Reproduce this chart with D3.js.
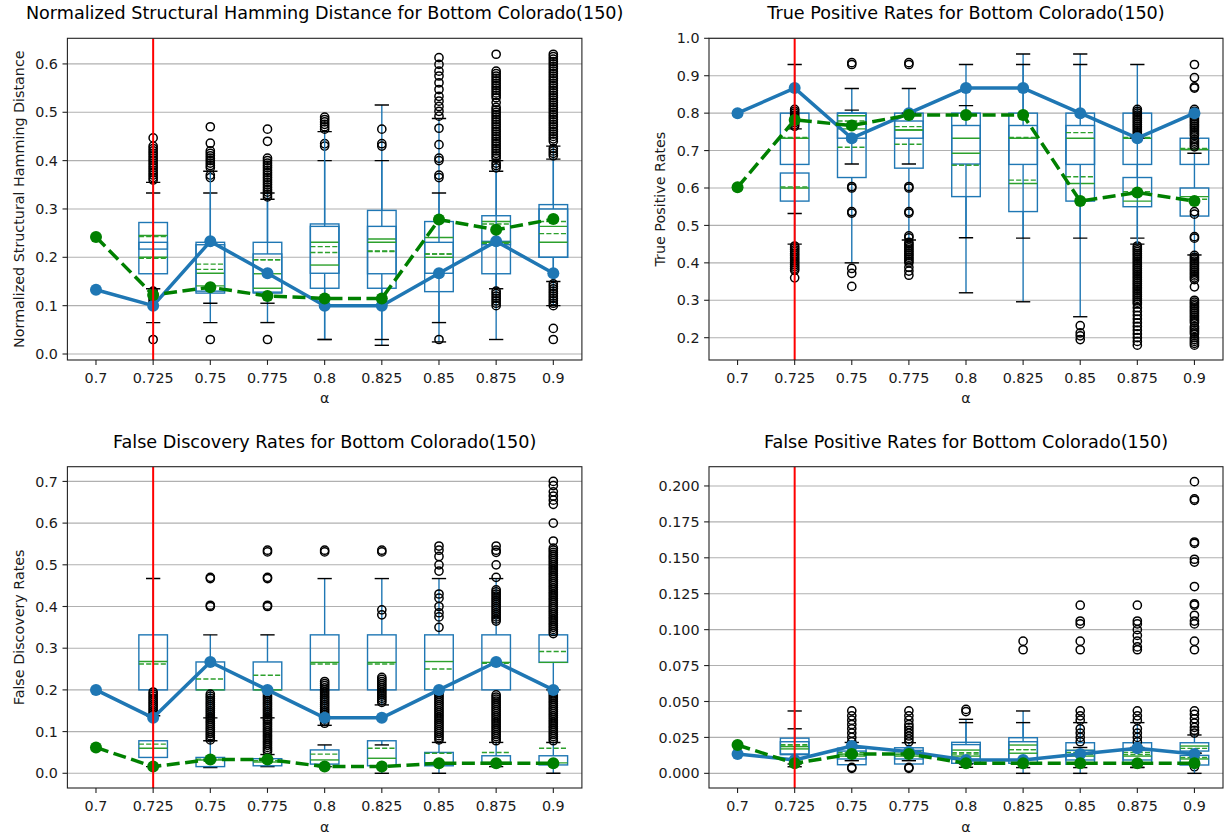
<!DOCTYPE html>
<html>
<head>
<meta charset="utf-8">
<script src="https://cdn.jsdelivr.net/npm/d3@7"></script>
<style>
  body { margin: 0; background: #fff; }
  svg { display: block; font-family: "DejaVu Sans", sans-serif; }
</style>
</head>
<body>
<svg id="chart" width="1225" height="839"></svg>
<script>
// ---------- categories ----------
const alphas = ["0.7", "0.725", "0.75", "0.775", "0.8", "0.825", "0.85", "0.875", "0.9"];
const boxAlphas = ["0.725", "0.75", "0.775", "0.8", "0.825", "0.85", "0.875", "0.9"];
const markedAlpha = "0.725";

// ---------- Normalized Structural Hamming Distance ----------
const shdTicks = [0, 0.1, 0.2, 0.3, 0.4, 0.5, 0.6];
const shdBlue = [0.133, 0.1, 0.233, 0.167, 0.1, 0.1, 0.167, 0.233, 0.167];
const shdGreen = [0.242, 0.122, 0.138, 0.12, 0.115, 0.115, 0.278, 0.257, 0.279];
const shdBoxesA = [
  {q1: 0.166, med: 0.245, q3: 0.272, mean: 0.243, lo: 0.065, hi: 0.333, out: [0.03, 0.447]},
  {q1: 0.126, med: 0.167, q3: 0.231, mean: 0.186, lo: 0.065, hi: 0.333, out: [0.03, 0.365, 0.37, 0.436, 0.47]},
  {q1: 0.126, med: 0.166, q3: 0.231, mean: 0.195, lo: 0.065, hi: 0.333, out: [0.03, 0.44, 0.465]},
  {q1: 0.136, med: 0.231, q3: 0.269, mean: 0.222, lo: 0.03, hi: 0.4, out: [0.43, 0.435]},
  {q1: 0.136, med: 0.238, q3: 0.297, mean: 0.212, lo: 0.018, hi: 0.515, out: []},
  {q1: 0.129, med: 0.241, q3: 0.274, mean: 0.207, lo: 0.025, hi: 0.487, out: [0.492, 0.502, 0.512, 0.523, 0.533, 0.547, 0.561, 0.575, 0.585, 0.599, 0.613]},
  {q1: 0.166, med: 0.274, q3: 0.286, mean: 0.269, lo: 0.03, hi: 0.378, out: [0.62]},
  {q1: 0.2, med: 0.264, q3: 0.309, mean: 0.274, lo: 0.1, hi: 0.43, out: [0.03, 0.053, 0.44, 0.445, 0.45, 0.455, 0.46, 0.465, 0.47, 0.475, 0.48, 0.485, 0.49, 0.495, 0.5, 0.505, 0.51, 0.515, 0.52, 0.525, 0.53, 0.535, 0.54, 0.545, 0.55, 0.555, 0.56, 0.565, 0.57, 0.575, 0.58, 0.585, 0.59, 0.595, 0.6, 0.605, 0.61, 0.615, 0.62]}
];
const shdBoxesB = [
  {q1: 0.217, med: 0.2, q3: 0.231, mean: 0.198, lo: 0.135, hi: 0.355, out: [0.1, 0.105, 0.11, 0.115, 0.12, 0.125, 0.13, 0.36, 0.365, 0.37, 0.375, 0.38, 0.385, 0.39, 0.395, 0.4, 0.405, 0.41, 0.415, 0.42, 0.425, 0.43]},
  {q1: 0.13, med: 0.141, q3: 0.226, mean: 0.175, lo: 0.105, hi: 0.378, out: [0.385, 0.39, 0.395, 0.4, 0.405, 0.41, 0.415, 0.42]},
  {q1: 0.128, med: 0.136, q3: 0.207, mean: 0.195, lo: 0.105, hi: 0.32, out: [0.325, 0.33, 0.335, 0.34, 0.345, 0.35, 0.355, 0.36, 0.365, 0.37, 0.375, 0.38, 0.385, 0.39, 0.395, 0.4, 0.405]},
  {q1: 0.167, med: 0.184, q3: 0.264, mean: 0.21, lo: 0.03, hi: 0.46, out: [0.465, 0.47, 0.475, 0.48, 0.485, 0.49]},
  {q1: 0.166, med: 0.231, q3: 0.264, mean: 0.213, lo: 0.03, hi: 0.4, out: [0.43, 0.435, 0.465]},
  {q1: 0.167, med: 0.2, q3: 0.231, mean: 0.207, lo: 0.065, hi: 0.333, out: [0.03, 0.365, 0.37, 0.4, 0.405, 0.433, 0.467]},
  {q1: 0.226, med: 0.231, q3: 0.233, mean: 0.229, lo: 0.135, hi: 0.4, out: [0.1, 0.105, 0.11, 0.115, 0.12, 0.125, 0.13, 0.385, 0.39, 0.395, 0.405, 0.41, 0.415, 0.42, 0.425, 0.43, 0.435, 0.44, 0.445, 0.45, 0.455, 0.46, 0.465, 0.47, 0.475, 0.48, 0.485, 0.49, 0.495, 0.5, 0.505, 0.51, 0.52, 0.53, 0.535, 0.54, 0.545, 0.55, 0.555, 0.56, 0.565, 0.57, 0.575, 0.58, 0.585]},
  {q1: 0.2, med: 0.231, q3: 0.3, mean: 0.249, lo: 0.15, hi: 0.403, out: [0.1, 0.105, 0.11, 0.115, 0.12, 0.125, 0.13, 0.135, 0.14, 0.145, 0.41, 0.415, 0.42, 0.425]}
];

// ---------- True Positive Rates ----------
const tprTicks = [0.2, 0.3, 0.4, 0.5, 0.6, 0.7, 0.8, 0.9, 1.0];
const tprBlue = [0.8, 0.867, 0.733, 0.8, 0.867, 0.867, 0.8, 0.733, 0.8];
const tprGreen = [0.602, 0.782, 0.767, 0.795, 0.795, 0.795, 0.565, 0.588, 0.565];
const tprBoxesA = [
  {q1: 0.663, med: 0.733, q3: 0.8, mean: 0.735, lo: 0.45, hi: 0.93, out: [0.36, 0.38, 0.385, 0.39, 0.395, 0.4, 0.405, 0.41, 0.415, 0.42, 0.425, 0.43, 0.435, 0.44, 0.445]},
  {q1: 0.628, med: 0.758, q3: 0.8, mean: 0.709, lo: 0.4, hi: 0.866, out: [0.337, 0.372, 0.385, 0.93, 0.935]},
  {q1: 0.653, med: 0.755, q3: 0.8, mean: 0.717, lo: 0.461, hi: 0.866, out: [0.367, 0.378, 0.388, 0.4, 0.405, 0.41, 0.415, 0.42, 0.425, 0.43, 0.435, 0.44, 0.445, 0.45, 0.455, 0.467, 0.472]},
  {q1: 0.577, med: 0.733, q3: 0.8, mean: 0.661, lo: 0.32, hi: 0.93, out: []},
  {q1: 0.537, med: 0.612, q3: 0.8, mean: 0.621, lo: 0.296, hi: 0.958, out: []},
  {q1: 0.565, med: 0.612, q3: 0.8, mean: 0.63, lo: 0.256, hi: 0.958, out: [0.195, 0.205, 0.213, 0.232]},
  {q1: 0.663, med: 0.733, q3: 0.8, mean: 0.735, lo: 0.466, hi: 0.93, out: [0.18, 0.19, 0.2, 0.21, 0.22, 0.23, 0.24, 0.25, 0.26, 0.27, 0.28, 0.29, 0.295, 0.3, 0.305, 0.31, 0.315, 0.32, 0.325, 0.33, 0.335, 0.34, 0.345, 0.35, 0.355, 0.36, 0.365, 0.37, 0.375, 0.38, 0.385, 0.39, 0.395, 0.4, 0.405, 0.41, 0.415, 0.42, 0.425, 0.43, 0.435, 0.44, 0.445]},
  {q1: 0.663, med: 0.703, q3: 0.733, mean: 0.706, lo: null, hi: null, out: [0.74, 0.745, 0.75, 0.755, 0.76, 0.765, 0.77, 0.775, 0.78, 0.785, 0.79, 0.795, 0.8, 0.805, 0.81, 0.867, 0.87, 0.895, 0.93]}
];
const tprBoxesB = [
  {q1: 0.565, med: 0.6, q3: 0.64, mean: 0.603, lo: 0.532, hi: 0.758, out: [0.765, 0.77, 0.775, 0.78, 0.785, 0.79, 0.795, 0.8, 0.805, 0.81]},
  {q1: 0.733, med: 0.793, q3: 0.8, mean: 0.779, lo: 0.664, hi: 0.808, out: [0.533, 0.537, 0.6, 0.604]},
  {q1: 0.733, med: 0.755, q3: 0.779, mean: 0.764, lo: 0.664, hi: 0.8, out: [0.533, 0.537, 0.6, 0.604, 0.93, 0.935]},
  {q1: 0.664, med: 0.693, q3: 0.767, mean: 0.661, lo: 0.467, hi: 0.82, out: []},
  {q1: 0.663, med: 0.733, q3: 0.767, mean: 0.735, lo: 0.466, hi: 0.93, out: []},
  {q1: 0.663, med: 0.733, q3: 0.767, mean: 0.748, lo: 0.466, hi: 0.93, out: []},
  {q1: 0.55, med: 0.565, q3: 0.628, mean: 0.59, lo: 0.45, hi: 0.733, out: [0.74, 0.745, 0.75, 0.755, 0.76, 0.765, 0.77, 0.775, 0.78, 0.785, 0.79, 0.795, 0.8, 0.805, 0.81]},
  {q1: 0.525, med: 0.577, q3: 0.6, mean: 0.57, lo: 0.421, hi: 0.693, out: [0.18, 0.185, 0.19, 0.195, 0.2, 0.21, 0.215, 0.22, 0.225, 0.23, 0.24, 0.245, 0.25, 0.255, 0.26, 0.265, 0.27, 0.275, 0.28, 0.285, 0.29, 0.295, 0.3, 0.336, 0.355, 0.36, 0.365, 0.37, 0.375, 0.38, 0.385, 0.39, 0.395, 0.4, 0.405, 0.41, 0.415, 0.42, 0.466, 0.47, 0.53, 0.537, 0.71, 0.715, 0.72, 0.725, 0.73]}
];

// ---------- False Discovery Rates ----------
const fdrTicks = [0, 0.1, 0.2, 0.3, 0.4, 0.5, 0.6, 0.7];
const fdrBlue = [0.2, 0.133, 0.267, 0.2, 0.133, 0.133, 0.2, 0.267, 0.2];
const fdrGreen = [0.062, 0.016, 0.033, 0.033, 0.016, 0.016, 0.024, 0.024, 0.024];
const fdrBoxesA = [
  {q1: 0.2, med: 0.268, q3: 0.332, mean: 0.262, lo: null, hi: 0.467, out: [0.14, 0.145, 0.15, 0.155, 0.16, 0.165, 0.17, 0.175, 0.18, 0.185, 0.19, 0.195]},
  {q1: 0.2, med: 0.2, q3: 0.267, mean: 0.226, lo: 0.133, hi: 0.332, out: [0.135, 0.14, 0.145, 0.15, 0.155, 0.16, 0.165, 0.17, 0.175, 0.18, 0.185, 0.19, 0.4, 0.403, 0.467, 0.47]},
  {q1: 0.2, med: 0.2, q3: 0.267, mean: 0.235, lo: 0.133, hi: 0.332, out: [0.135, 0.14, 0.145, 0.15, 0.155, 0.16, 0.165, 0.17, 0.175, 0.18, 0.185, 0.19, 0.4, 0.403, 0.467, 0.47, 0.531, 0.535]},
  {q1: 0.2, med: 0.266, q3: 0.332, mean: 0.262, lo: 0.115, hi: 0.467, out: [0.12, 0.125, 0.13, 0.135, 0.14, 0.145, 0.15, 0.155, 0.16, 0.165, 0.17, 0.175, 0.18, 0.185, 0.19, 0.195, 0.2, 0.205, 0.21, 0.215, 0.22, 0.531, 0.535]},
  {q1: 0.2, med: 0.266, q3: 0.332, mean: 0.262, lo: 0.164, hi: 0.467, out: [0.17, 0.175, 0.18, 0.185, 0.19, 0.195, 0.2, 0.205, 0.21, 0.215, 0.22, 0.225, 0.23, 0.38, 0.392, 0.531, 0.535]},
  {q1: 0.2, med: 0.268, q3: 0.332, mean: 0.25, lo: null, hi: 0.467, out: [0.35, 0.375, 0.385, 0.4, 0.42, 0.43, 0.485, 0.5, 0.52, 0.535, 0.545]},
  {q1: 0.2, med: 0.266, q3: 0.332, mean: 0.264, lo: null, hi: 0.467, out: [0.365, 0.37, 0.375, 0.38, 0.385, 0.39, 0.395, 0.4, 0.405, 0.41, 0.415, 0.42, 0.425, 0.43, 0.435, 0.44, 0.47, 0.5, 0.53, 0.535, 0.545]},
  {q1: 0.266, med: 0.266, q3: 0.332, mean: 0.292, lo: 0.2, hi: null, out: [0.335, 0.34, 0.345, 0.35, 0.355, 0.36, 0.365, 0.37, 0.375, 0.38, 0.385, 0.39, 0.395, 0.4, 0.405, 0.41, 0.415, 0.42, 0.425, 0.43, 0.435, 0.44, 0.445, 0.45, 0.455, 0.46, 0.465, 0.47, 0.475, 0.48, 0.485, 0.49, 0.495, 0.5, 0.505, 0.51, 0.515, 0.52, 0.525, 0.53, 0.535, 0.54, 0.557, 0.6, 0.645, 0.655, 0.665, 0.675, 0.69, 0.7]}
];
const fdrBoxesB = [
  {q1: 0.038, med: 0.06, q3: 0.078, mean: 0.07, lo: 0.016, hi: 0.138, out: []},
  {q1: 0.016, med: 0.032, q3: 0.038, mean: 0.034, lo: 0.014, hi: 0.078, out: [0.08, 0.085, 0.09, 0.095, 0.1, 0.105, 0.11, 0.115, 0.12, 0.125, 0.13]},
  {q1: 0.018, med: 0.027, q3: 0.035, mean: 0.03, lo: 0.016, hi: 0.045, out: [0.052, 0.057, 0.062, 0.067, 0.072, 0.077, 0.082, 0.087, 0.092, 0.097, 0.102, 0.107, 0.112, 0.117, 0.122, 0.127, 0.13]},
  {q1: 0.022, med: 0.032, q3: 0.056, mean: 0.046, lo: 0.016, hi: 0.068, out: []},
  {q1: 0.018, med: 0.036, q3: 0.078, mean: 0.06, lo: 0.0, hi: 0.068, out: []},
  {q1: 0.018, med: 0.025, q3: 0.05, mean: 0.048, lo: 0.0, hi: 0.074, out: [0.08, 0.085, 0.09, 0.095, 0.1, 0.105, 0.11, 0.115, 0.12, 0.125, 0.13, 0.135, 0.14, 0.145, 0.15, 0.155, 0.16, 0.165, 0.17, 0.175, 0.18, 0.185, 0.19, 0.195, 0.2]},
  {q1: 0.022, med: 0.026, q3: 0.042, mean: 0.05, lo: 0.016, hi: 0.074, out: [0.078, 0.083, 0.088, 0.093, 0.098, 0.103, 0.108, 0.113, 0.118, 0.123, 0.128, 0.133, 0.138, 0.143, 0.148, 0.153, 0.158, 0.163, 0.168, 0.173, 0.178, 0.183, 0.188]},
  {q1: 0.02, med: 0.025, q3: 0.042, mean: 0.06, lo: 0.0, hi: 0.074, out: [0.078, 0.083, 0.088, 0.093, 0.098, 0.103, 0.108, 0.113, 0.118, 0.123, 0.128, 0.133, 0.138, 0.143, 0.148, 0.153, 0.158, 0.163, 0.168, 0.173, 0.178, 0.183, 0.188, 0.193, 0.198]}
];

// ---------- False Positive Rates ----------
const fprTicks = [0, 0.025, 0.05, 0.075, 0.1, 0.125, 0.15, 0.175, 0.2];
const fprBlue = [0.0134, 0.0093, 0.019, 0.015, 0.0093, 0.0093, 0.0134, 0.0174, 0.0134];
const fprGreen = [0.0197, 0.007, 0.0134, 0.0134, 0.007, 0.007, 0.007, 0.007, 0.007];
const fprBoxesA = [
  {q1: 0.013, med: 0.0186, q3: 0.0245, mean: 0.02, lo: 0.0046, hi: 0.0434, out: []},
  {q1: 0.006, med: 0.0134, q3: 0.0175, mean: 0.0145, lo: null, hi: 0.0215, out: [0.0035, 0.0042, 0.022, 0.025, 0.028, 0.031, 0.034, 0.037, 0.04, 0.0435]},
  {q1: 0.0065, med: 0.0134, q3: 0.0178, mean: 0.015, lo: null, hi: 0.0213, out: [0.0035, 0.0042, 0.022, 0.024, 0.026, 0.028, 0.03, 0.032, 0.034, 0.037, 0.04, 0.0435]},
  {q1: 0.007, med: 0.0162, q3: 0.0216, mean: 0.0144, lo: 0.0042, hi: 0.0376, out: [0.043, 0.0445]},
  {q1: 0.007, med: 0.0197, q3: 0.0248, mean: 0.0165, lo: 0.0, hi: 0.0434, out: [0.086, 0.092]},
  {q1: 0.0063, med: 0.016, q3: 0.0213, mean: 0.0145, lo: 0.0, hi: 0.0353, out: [0.037, 0.04, 0.0435, 0.086, 0.092, 0.104, 0.106, 0.117]},
  {q1: 0.0063, med: 0.016, q3: 0.0213, mean: 0.0145, lo: 0.0042, hi: 0.0353, out: [0.037, 0.04, 0.0435, 0.086, 0.088, 0.092, 0.096, 0.1, 0.104, 0.106, 0.117]},
  {q1: 0.0155, med: 0.019, q3: 0.0213, mean: 0.0174, lo: 0.014, hi: 0.0267, out: [0.0046, 0.009, 0.028, 0.03, 0.032, 0.035, 0.038, 0.041, 0.0435]}
];
const fprBoxesB = [
  {q1: 0.0135, med: 0.017, q3: 0.022, mean: 0.019, lo: 0.0065, hi: 0.031, out: []},
  {q1: 0.01, med: 0.012, q3: 0.0155, mean: 0.013, lo: 0.0088, hi: null, out: []},
  {q1: 0.01, med: 0.012, q3: 0.016, mean: 0.013, lo: 0.0088, hi: null, out: []},
  {q1: 0.0097, med: 0.012, q3: 0.02, mean: 0.0135, lo: 0.0065, hi: 0.0353, out: []},
  {q1: 0.0095, med: 0.014, q3: 0.022, mean: 0.0165, lo: 0.004, hi: 0.0353, out: []},
  {q1: 0.0093, med: 0.012, q3: 0.016, mean: 0.013, lo: 0.004, hi: 0.018, out: [0.022, 0.025, 0.028, 0.031]},
  {q1: 0.0093, med: 0.012, q3: 0.016, mean: 0.013, lo: 0.004, hi: 0.018, out: [0.022, 0.025, 0.028, 0.031]},
  {q1: 0.0058, med: 0.01, q3: 0.0125, mean: 0.011, lo: 0.0, hi: 0.014, out: [0.086, 0.092, 0.104, 0.106, 0.11, 0.117, 0.118, 0.13, 0.147, 0.149, 0.16, 0.161, 0.19, 0.191, 0.203]}
];

// ---------- panel definitions ----------
const panels = [
  {title: "Normalized Structural Hamming Distance for Bottom Colorado(150)", ylabel: "Normalized Structural Hamming Distance",
   domain: [-0.0124, 0.653], ticks: shdTicks, fmt: d3.format(".1f"), blue: shdBlue, green: shdGreen, boxes: [shdBoxesA, shdBoxesB]},
  {title: "True Positive Rates for Bottom Colorado(150)", ylabel: "True Positive Rates",
   domain: [0.1404, 1.0], ticks: tprTicks, fmt: d3.format(".1f"), blue: tprBlue, green: tprGreen, boxes: [tprBoxesA, tprBoxesB]},
  {title: "False Discovery Rates for Bottom Colorado(150)", ylabel: "False Discovery Rates",
   domain: [-0.0353, 0.7353], ticks: fdrTicks, fmt: d3.format(".1f"), blue: fdrBlue, green: fdrGreen, boxes: [fdrBoxesA, fdrBoxesB]},
  {title: "False Positive Rates for Bottom Colorado(150)", ylabel: null,
   domain: [-0.0102, 0.2134], ticks: fprTicks, fmt: d3.format(".3f"), blue: fprBlue, green: fprGreen, boxes: [fprBoxesA, fprBoxesB]}
];

// axes rectangles and text anchors for the 2x2 grid
const frames = [
  {left: 67.4, top: 38.3, width: 514.5, height: 321.7, titleY: 18.5, tickY: 382.7, xlabY: 403, ylabX: 23.5},
  {left: 709, top: 38.3, width: 514, height: 321.7, titleY: 18.5, tickY: 382.7, xlabY: 403, ylabX: 664.5},
  {left: 67.4, top: 466.7, width: 514.5, height: 321.3, titleY: 448.3, tickY: 810.7, xlabY: 832, ylabX: 23.5},
  {left: 709, top: 466.7, width: 514, height: 321.3, titleY: 448.3, tickY: 810.7, xlabY: 832, ylabX: null}
];

const C = {
  box: "#1f77b4", median: "#2ca02c", cap: "#000", grid: "#b0b0b0",
  blueLine: "#1f77b4", greenLine: "#008000", red: "#ff0000", text: "#1a1a1a"
};
const FS = {tick: 14.3, label: 14.3, title: 17.6};
const svg = d3.select("#chart");

panels.forEach((p, pi) => {
  const F = frames[pi];
  const g = svg.append("g");
  const x = d3.scaleBand().domain(alphas).range([F.left, F.left + F.width]).paddingInner(0).paddingOuter(0);
  const bw = x.bandwidth();
  const cx = a => x(a) + bw / 2;
  const y = d3.scaleLinear().domain(p.domain).range([F.top + F.height, F.top]);
  const boxW = bw * 0.5, capW = bw * 0.25;

  const clipId = "clip" + pi;
  g.append("clipPath").attr("id", clipId).append("rect")
    .attr("x", F.left).attr("y", F.top).attr("width", F.width).attr("height", F.height);

  // horizontal grid
  g.append("g").selectAll("line").data(p.ticks).join("line")
    .attr("x1", F.left).attr("x2", F.left + F.width)
    .attr("y1", d => y(d)).attr("y2", d => y(d))
    .attr("stroke", C.grid).attr("stroke-width", 1.1);

  const plot = g.append("g").attr("clip-path", `url(#${clipId})`);

  // two box series per alpha
  p.boxes.forEach(series => {
    const rows = series.map((b, i) => Object.assign({a: boxAlphas[i]}, b));
    const sg = plot.append("g");
    const whiskers = [];
    const caps = [];
    rows.forEach(r => {
      if (r.lo !== null) { whiskers.push({a: r.a, v0: r.q1, v1: r.lo}); caps.push({a: r.a, v: r.lo}); }
      if (r.hi !== null) { whiskers.push({a: r.a, v0: r.q3, v1: r.hi}); caps.push({a: r.a, v: r.hi}); }
    });
    sg.append("g").selectAll("line").data(whiskers).join("line")
      .attr("x1", d => cx(d.a)).attr("x2", d => cx(d.a))
      .attr("y1", d => y(d.v0)).attr("y2", d => y(d.v1))
      .attr("stroke", C.box).attr("stroke-width", 1.4);
    sg.append("g").selectAll("line").data(caps).join("line")
      .attr("x1", d => cx(d.a) - capW / 2).attr("x2", d => cx(d.a) + capW / 2)
      .attr("y1", d => y(d.v)).attr("y2", d => y(d.v))
      .attr("stroke", C.cap).attr("stroke-width", 1.4);
    sg.append("g").selectAll("rect").data(rows).join("rect")
      .attr("x", d => cx(d.a) - boxW / 2).attr("width", boxW)
      .attr("y", d => y(d.q3)).attr("height", d => y(d.q1) - y(d.q3))
      .attr("fill", "none").attr("stroke", C.box).attr("stroke-width", 1.4);
    sg.append("g").selectAll("line").data(rows).join("line")
      .attr("x1", d => cx(d.a) - boxW / 2).attr("x2", d => cx(d.a) + boxW / 2)
      .attr("y1", d => y(d.med)).attr("y2", d => y(d.med))
      .attr("stroke", C.median).attr("stroke-width", 1.4);
    sg.append("g").selectAll("line").data(rows).join("line")
      .attr("x1", d => cx(d.a) - boxW / 2).attr("x2", d => cx(d.a) + boxW / 2)
      .attr("y1", d => y(d.mean)).attr("y2", d => y(d.mean))
      .attr("stroke", C.median).attr("stroke-width", 1.4).attr("stroke-dasharray", "5.1,2.2");
    const fliers = rows.flatMap(r => r.out.map(v => ({a: r.a, v})));
    sg.append("g").selectAll("circle").data(fliers).join("circle")
      .attr("cx", d => cx(d.a)).attr("cy", d => y(d.v)).attr("r", 4.1)
      .attr("fill", "none").attr("stroke", "#000").attr("stroke-width", 1.5);
  });

  // summary lines with markers
  const drawLine = (vals, color, dash) => {
    const pts = alphas.map((a, i) => ({a, v: vals[i]}));
    plot.append("path").datum(pts)
      .attr("d", d3.line().x(d => cx(d.a)).y(d => y(d.v)))
      .attr("fill", "none").attr("stroke", color).attr("stroke-width", 3.5)
      .attr("stroke-linejoin", "round")
      .attr("stroke-dasharray", dash);
    plot.append("g").selectAll("circle").data(pts).join("circle")
      .attr("cx", d => cx(d.a)).attr("cy", d => y(d.v)).attr("r", 6)
      .attr("fill", color);
  };
  drawLine(p.blue, C.blueLine, null);
  drawLine(p.green, C.greenLine, "13,5.5");

  // reference alpha
  plot.append("line")
    .attr("x1", cx(markedAlpha)).attr("x2", cx(markedAlpha))
    .attr("y1", F.top).attr("y2", F.top + F.height)
    .attr("stroke", C.red).attr("stroke-width", 2);

  // frame
  g.append("rect").attr("x", F.left).attr("y", F.top).attr("width", F.width).attr("height", F.height)
    .attr("fill", "none").attr("stroke", "#222").attr("stroke-width", 1.1);

  // y ticks
  const yt = g.append("g");
  yt.selectAll("line").data(p.ticks).join("line")
    .attr("x1", F.left - 4.9).attr("x2", F.left)
    .attr("y1", d => y(d)).attr("y2", d => y(d))
    .attr("stroke", "#222").attr("stroke-width", 1.1);
  yt.selectAll("text").data(p.ticks).join("text")
    .attr("x", F.left - 9.5).attr("y", d => y(d)).attr("dy", "0.36em")
    .attr("text-anchor", "end").attr("font-size", FS.tick).attr("fill", C.text)
    .text(d => p.fmt(d));

  // x ticks
  const xt = g.append("g");
  xt.selectAll("line").data(alphas).join("line")
    .attr("x1", d => cx(d)).attr("x2", d => cx(d))
    .attr("y1", F.top + F.height).attr("y2", F.top + F.height + 4.9)
    .attr("stroke", "#222").attr("stroke-width", 1.1);
  xt.selectAll("text").data(alphas).join("text")
    .attr("x", d => cx(d)).attr("y", F.tickY)
    .attr("text-anchor", "middle").attr("font-size", FS.tick).attr("fill", C.text)
    .text(d => d);

  // labels and title
  g.append("text").attr("x", F.left + F.width / 2).attr("y", F.xlabY)
    .attr("text-anchor", "middle").attr("font-size", FS.label).attr("fill", C.text).text("α");
  if (p.ylabel) {
    g.append("text")
      .attr("transform", `translate(${F.ylabX},${F.top + F.height / 2}) rotate(-90)`)
      .attr("text-anchor", "middle").attr("font-size", FS.label).attr("fill", C.text).text(p.ylabel);
  }
  g.append("text").attr("x", F.left + F.width / 2).attr("y", F.titleY)
    .attr("text-anchor", "middle").attr("font-size", FS.title).attr("fill", "#000").text(p.title);
});
</script>
</body>
</html>
